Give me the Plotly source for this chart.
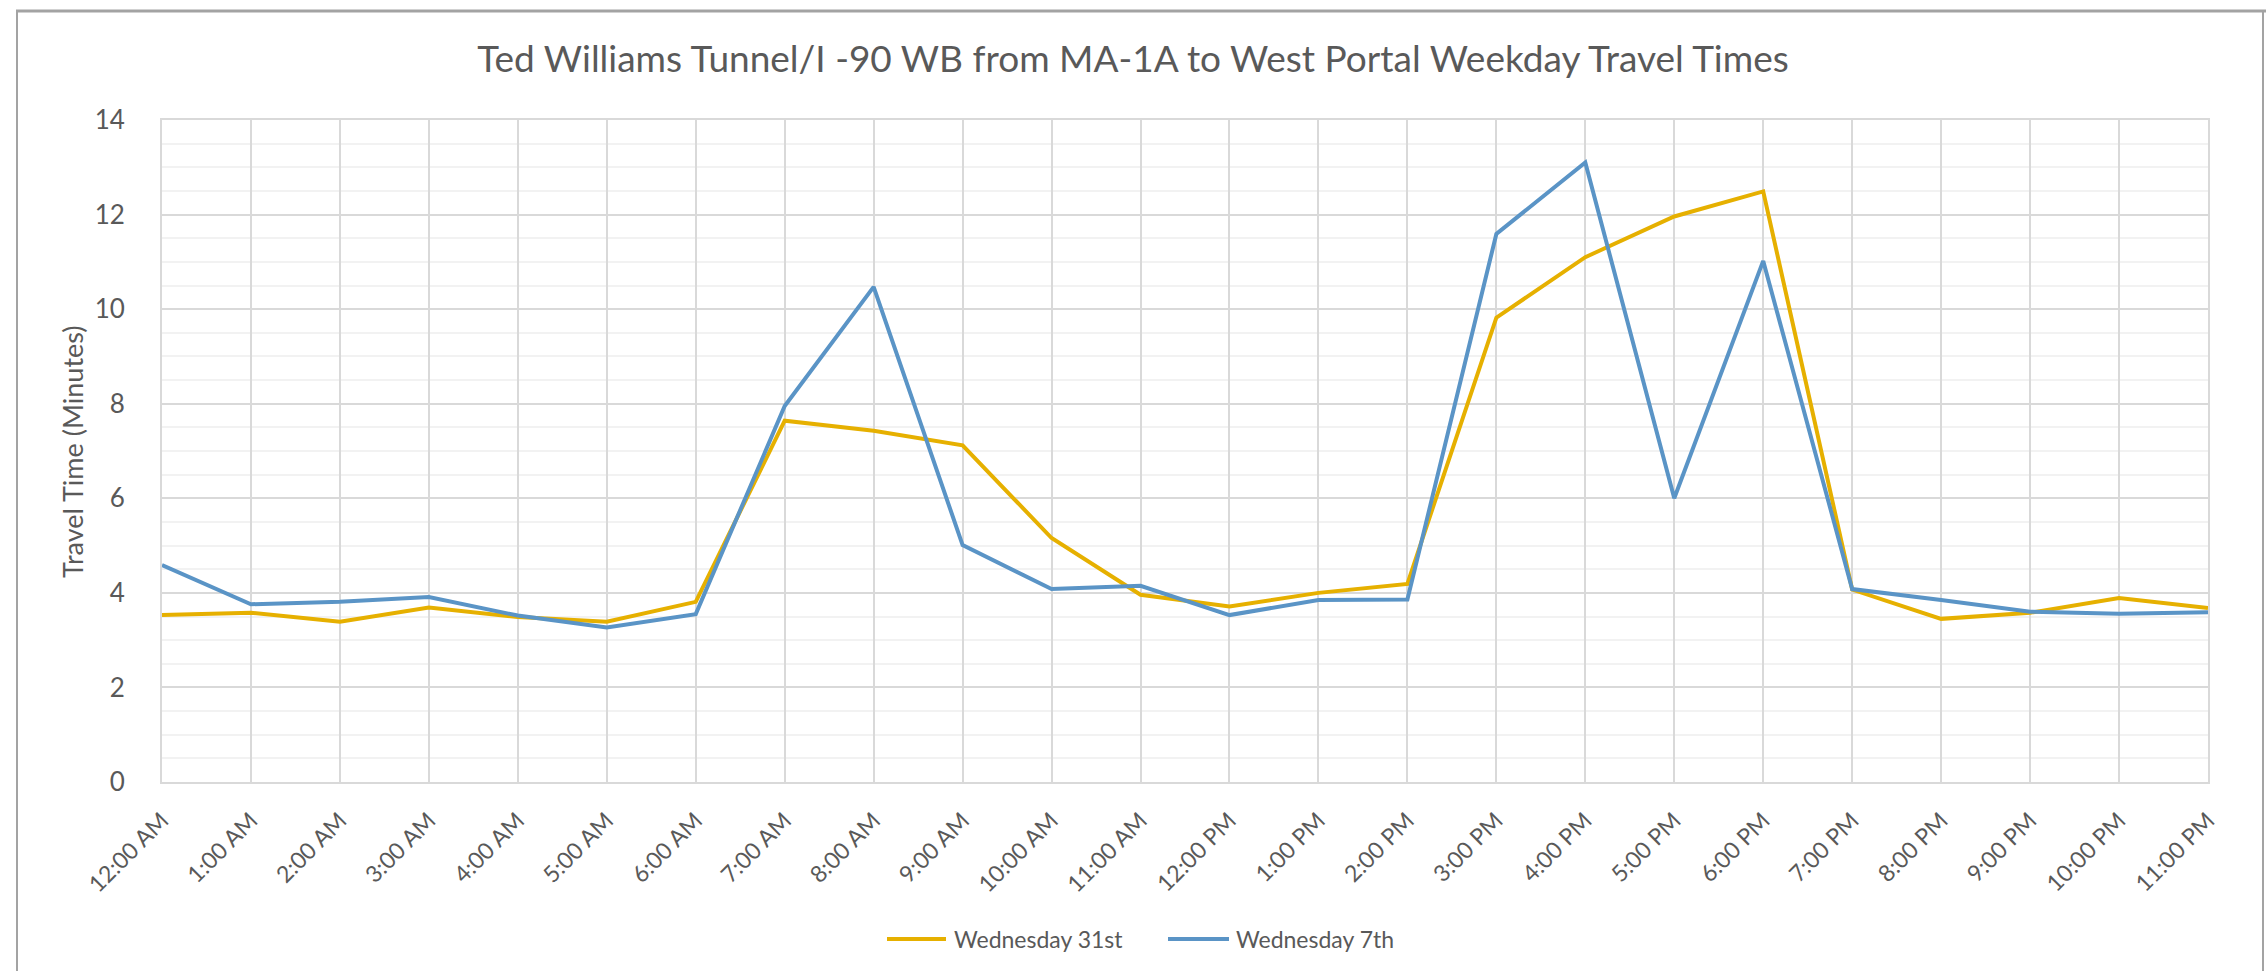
import plotly.graph_objects as go

# Hourly categories and weekday travel times (minutes)
hours = [
    "12:00 AM", "1:00 AM", "2:00 AM", "3:00 AM", "4:00 AM", "5:00 AM",
    "6:00 AM", "7:00 AM", "8:00 AM", "9:00 AM", "10:00 AM", "11:00 AM",
    "12:00 PM", "1:00 PM", "2:00 PM", "3:00 PM", "4:00 PM", "5:00 PM",
    "6:00 PM", "7:00 PM", "8:00 PM", "9:00 PM", "10:00 PM", "11:00 PM",
]
wednesday_31st = [
    3.53, 3.58, 3.39, 3.69, 3.49, 3.39, 3.81, 7.64, 7.43, 7.12, 5.16, 3.96,
    3.71, 4.00, 4.19, 9.82, 11.10, 11.96, 12.49, 4.07, 3.45, 3.58, 3.89, 3.68,
]
wednesday_7th = [
    4.59, 3.76, 3.81, 3.91, 3.52, 3.27, 3.55, 7.95, 10.47, 5.01, 4.08, 4.15,
    3.53, 3.85, 3.86, 11.59, 13.10, 6.00, 11.02, 4.08, 3.85, 3.60, 3.56, 3.59,
]
series_names = ["Wednesday 31st", "Wednesday 7th"]
series_colors = ["#E6B000", "#5A94C6"]
y_ticks = [0, 2, 4, 6, 8, 10, 12, 14]

W, H = 2266, 971
PL, PR, PT, PB = 162, 2208, 120, 782  # plot area in pixels
FONT = "Lato"
TEXT = "#595959"


def px_x(px):
    return (px - PL) / (PR - PL)


def px_y(py):
    return (PB - py) / (PB - PT)


x_idx = list(range(len(hours)))

fig = go.Figure()
for name, vals, col in zip(series_names, [wednesday_31st, wednesday_7th], series_colors):
    fig.add_trace(go.Scatter(
        x=x_idx, y=vals, mode="lines", name=name,
        line=dict(color=col, width=4), showlegend=False,
        hovertemplate="%{text}: %{y:.2f}<extra>" + name + "</extra>",
        text=hours,
    ))

shapes = []
annotations = []

# Chart frame
shapes.append(dict(type="line", xref="paper", yref="paper",
                   x0=px_x(16), x1=px_x(2266), y0=px_y(11), y1=px_y(11),
                   line=dict(color="#A3A3A3", width=3)))
shapes.append(dict(type="line", xref="paper", yref="paper",
                   x0=px_x(17), x1=px_x(17), y0=px_y(10), y1=px_y(971),
                   line=dict(color="#A3A3A3", width=2)))
shapes.append(dict(type="line", xref="paper", yref="paper",
                   x0=px_x(2263), x1=px_x(2263), y0=px_y(10), y1=px_y(971),
                   line=dict(color="#A3A3A3", width=2)))

# Legend entries (line sample + label)
legend_items = [(887, 946, 952), (1168, 1229, 1234)]
for (lx0, lx1, tx), name, col in zip(legend_items, series_names, series_colors):
    shapes.append(dict(type="line", xref="paper", yref="paper",
                       x0=px_x(lx0), x1=px_x(lx1), y0=px_y(939), y1=px_y(939),
                       line=dict(color=col, width=4)))
    annotations.append(dict(xref="paper", yref="paper", x=px_x(tx), y=px_y(939),
                            text=name, showarrow=False, xanchor="left", yanchor="middle",
                            font=dict(family=FONT, size=23, color=TEXT)))

# Y axis title
annotations.append(dict(xref="paper", yref="paper", x=px_x(72), y=px_y(452),
                        text="Travel Time (Minutes)", textangle=-90, showarrow=False,
                        xanchor="center", yanchor="middle",
                        font=dict(family=FONT, size=27, color=TEXT)))

fig.update_layout(
    width=W, height=H, autosize=False,
    margin=dict(l=PL, r=W - PR, t=PT, b=H - PB),
    paper_bgcolor="white", plot_bgcolor="white",
    title=dict(text="Ted Williams Tunnel/I -90 WB from MA-1A to West Portal Weekday Travel Times",
               x=0.5, xref="container", xanchor="center",
               y=1 - 59 / H, yref="container", yanchor="middle",
               font=dict(family=FONT, size=37, color=TEXT)),
    shapes=shapes, annotations=annotations,
    showlegend=False,
)

fig.update_xaxes(
    range=[0, len(hours) - 1], tickmode="array", tickvals=x_idx, ticktext=hours,
    tickangle=-45, tickfont=dict(family=FONT, size=23, color=TEXT),
    showgrid=True, gridcolor="#D9D9D9", gridwidth=2,
    showline=True, linecolor="#D9D9D9", linewidth=2, mirror=True,
    zeroline=False, ticks="", ticklabelstandoff=14,
)
fig.update_yaxes(
    range=[0, 14], tickmode="array", tickvals=y_ticks,
    tickfont=dict(family=FONT, size=26, color=TEXT),
    showgrid=True, gridcolor="#D9D9D9", gridwidth=2,
    minor=dict(dtick=0.5, showgrid=True, gridcolor="#F2F2F2", gridwidth=2),
    showline=True, linecolor="#D9D9D9", linewidth=2, mirror=True,
    zeroline=False, ticks="", ticklabelstandoff=30,
)

fig.write_html("out.html")
